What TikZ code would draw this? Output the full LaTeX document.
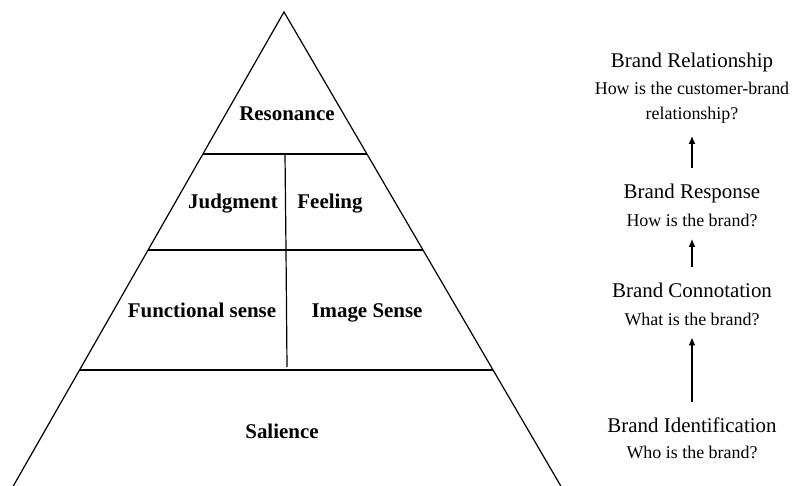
\documentclass[tikz,border=0pt]{standalone}
\usepackage{fontspec}
\setmainfont{Liberation Serif}
\usetikzlibrary{arrows.meta}
\usetikzlibrary{calc}

\begin{document}
\begin{tikzpicture}[x=1bp,y=-1bp]
    \tikzstyle{edge}=[draw=black,line width=1.2pt,-]
    \tikzstyle{arrow}=[draw=black,line width=1.4pt,-{Latex[length=8pt,width=7pt]},shorten >=12pt,shorten <=16pt]
    \tikzstyle{level}=[inner sep=0pt,anchor=base,font=\bfseries\fontsize{21}{25}\selectfont]
    \tikzstyle{title}=[inner sep=0pt,anchor=base,font=\fontsize{21}{25}\selectfont]
    \tikzstyle{question}=[inner sep=0pt,anchor=base,font=\fontsize{18}{22}\selectfont]

    \useasboundingbox (0,0) rectangle (792,486);

    \def\a{0.2996}
    \def\b{0.5021}
    \def\c{0.7553}
    \def\X{692}

    \coordinate (top) at (284,12);
    \coordinate (bl)  at (13.3,486);
    \coordinate (br)  at (560.8,486);

    % pyramid
    \path[edge] (bl) -- (top) -- (br);
    \path[edge] ($(top)!\a!(bl)$) -- ($(top)!\a!(br)$);
    \path[edge] ($(top)!\b!(bl)$) -- ($(top)!\b!(br)$);
    \path[edge] ($(top)!\c!(bl)$) -- ($(top)!\c!(br)$);
    \path[edge] (285,154) -- (286,250);
    \path[edge] (286,250) -- (287,367);

    \node[level] (reso) at (287,121) {Resonance};
    \node[level] (judg) at (233,209) {Judgment};
    \node[level] (feel) at (330,209) {Feeling};
    \node[level] (func) at (202,317) {Functional sense};
    \node[level] (imag) at (367,317) {Image Sense};
    \node[level] (sali) at (282,438) {Salience};

    % levels on the right
    \node[title]    (rel)   at (\X,68)    {Brand Relationship};
    \node[question] (relq1) at (\X,95)    {How is the customer-brand};
    \node[question] (relq2) at (\X,120)   {relationship?};
    \node[title]    (resp)  at (\X,199)   {Brand Response};
    \node[question] (respq) at (\X,226.5) {How is the brand?};
    \node[title]    (conn)  at (\X,298)   {Brand Connotation};
    \node[question] (connq) at (\X,325)   {What is the brand?};
    \node[title]    (iden)  at (\X,432.5) {Brand Identification};
    \node[question] (idenq) at (\X,458)   {Who is the brand?};

    \path[arrow] (resp.north) -- (relq2.south);
    \path[arrow] (conn.north) -- (respq.south);
    \path[arrow] (iden.north) -- (connq.south);
\end{tikzpicture}
\end{document}
